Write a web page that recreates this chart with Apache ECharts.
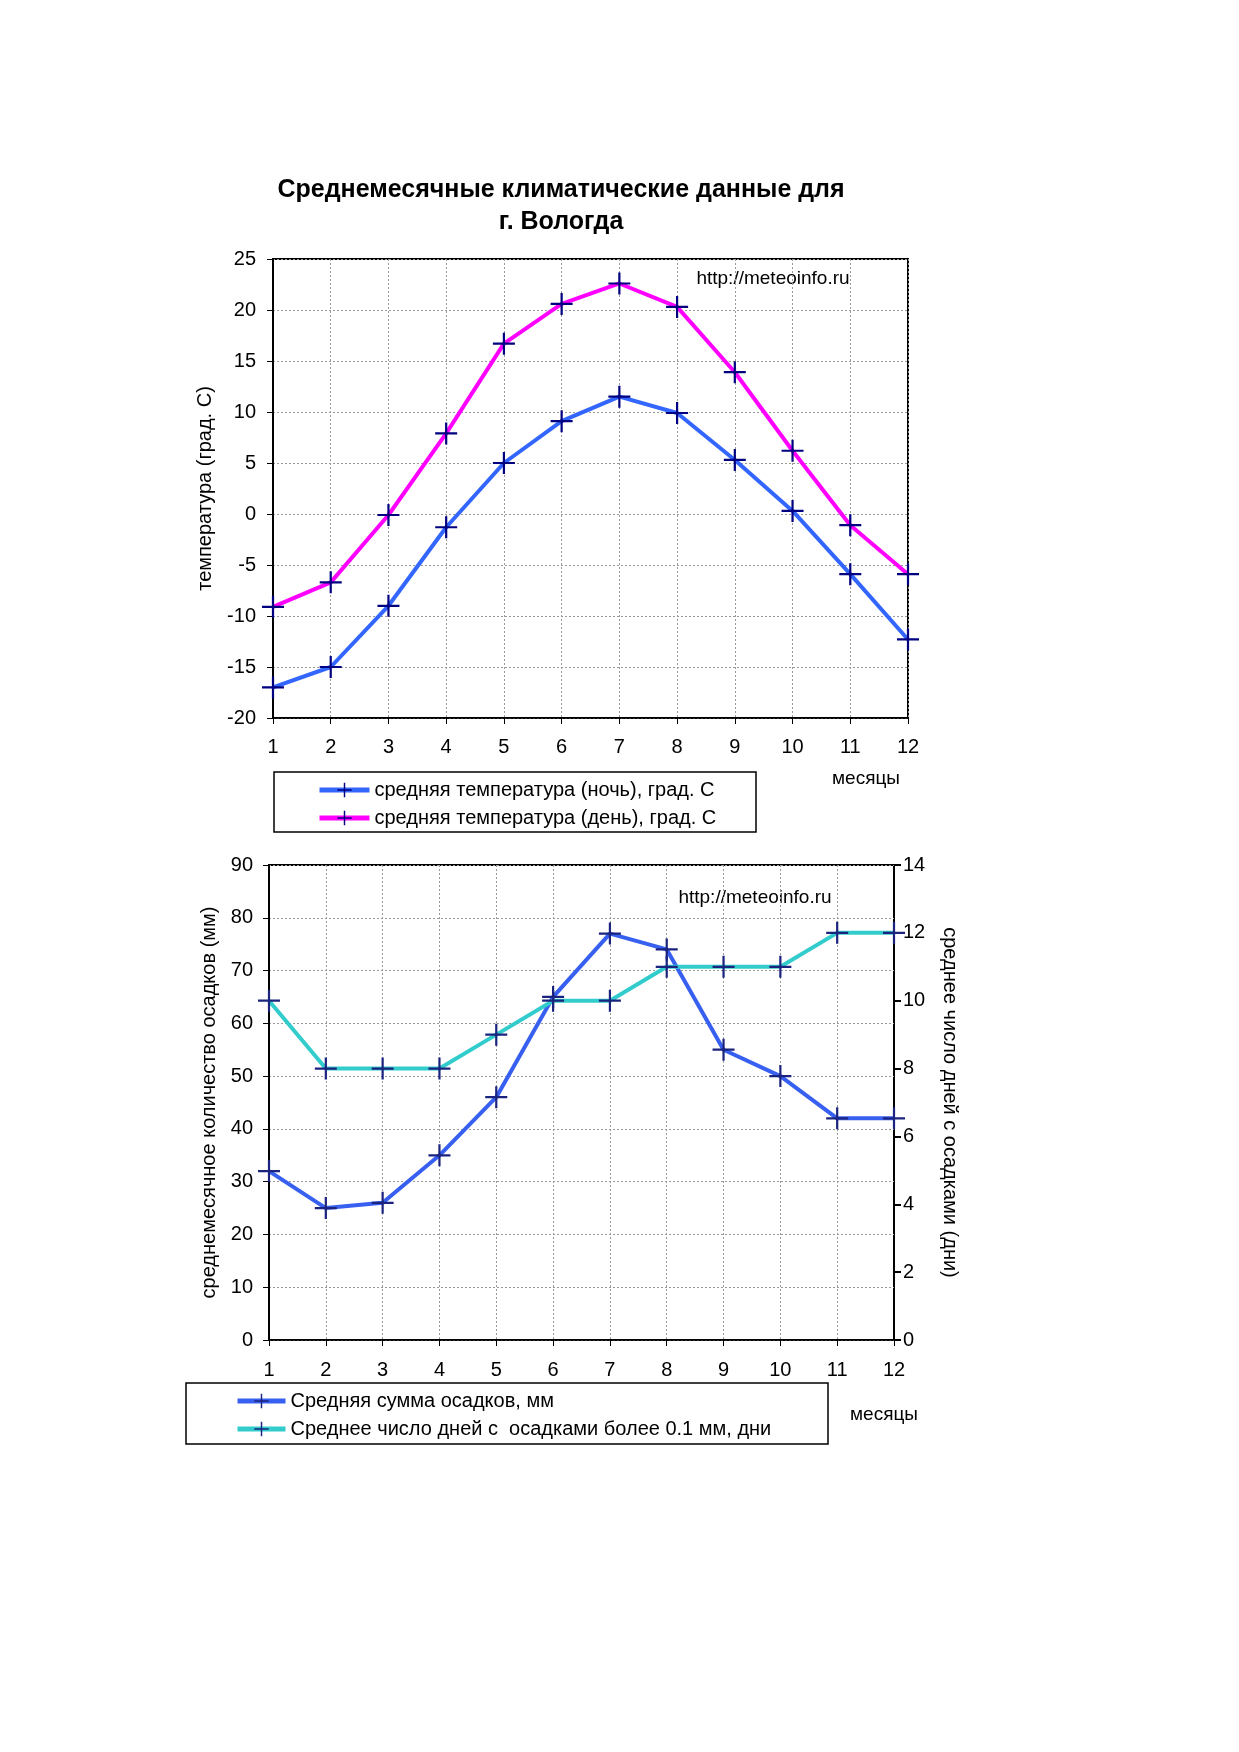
<!DOCTYPE html>
<html>
<head>
<meta charset="utf-8">
<script src="https://cdn.jsdelivr.net/npm/echarts@6/dist/echarts.min.js"></script>
<style>
  html, body { margin: 0; padding: 0; background: #fff; }
  #main { width: 1239px; height: 1752px; }
</style>
</head>
<body>
<div id="main"></div>
<script>
// месяцы
var months = ['1', '2', '3', '4', '5', '6', '7', '8', '9', '10', '11', '12'];
// температура, град. С
var nightTemp = [-17, -15, -9, -1.3, 5, 9.1, 11.5, 9.9, 5.3, 0.3, -5.9, -12.3];
var dayTemp = [-9.1, -6.7, -0.1, 7.9, 16.7, 20.6, 22.6, 20.3, 13.9, 6.2, -1.1, -5.9];
// осадки
var precipMm = [32, 25, 26, 35, 46, 65, 77, 74, 55, 50, 42, 42];
var precipDays = [10, 8, 8, 8, 9, 10, 10, 11, 11, 11, 12, 12];

var seriesNames = [
  'средняя температура (ночь), град. С',
  'средняя температура (день), град. С',
  'Средняя сумма осадков, мм',
  'Среднее число дней с  осадками более 0.1 мм, дни'
];

var FONT = '"Liberation Sans", Arial, sans-serif';
var plus = 'path://M0,9H20V11H0Z M9,0H11V20H9Z';
var gridLine = { show: true, lineStyle: { color: '#999', type: [2, 2], width: 1 } };
var lbl = { color: '#000', fontFamily: FONT, fontSize: 20 };

var myChart = echarts.init(document.getElementById('main'));

function xAx(gi, margin) {
  return {
    type: 'category', gridIndex: gi, data: months, boundaryGap: false,
    axisLine: { onZero: false, lineStyle: { color: '#000', width: 1.5 } },
    axisTick: { show: true, length: 6, lineStyle: { color: '#000' } },
    axisLabel: Object.assign({ margin: margin }, lbl),
    splitLine: gridLine
  };
}

myChart.setOption({
  animation: false,
  grid: [
    { left: 273, top: 259, width: 635, height: 459, show: true, borderColor: '#000', borderWidth: 2 },
    { left: 269, top: 865, width: 625, height: 475, show: true, borderColor: '#000', borderWidth: 2 }
  ],
  xAxis: [xAx(0, 19), xAx(1, 20)],
  yAxis: [
    {
      type: 'value', gridIndex: 0, min: -20, max: 25, interval: 5,
      name: 'температура (град. С)', nameLocation: 'middle', nameGap: 58, nameRotate: 90,
      nameTextStyle: lbl,
      axisLine: { show: true, lineStyle: { color: '#000' } },
      axisTick: { show: true, length: 6, lineStyle: { color: '#000' } },
      axisLabel: Object.assign({ margin: 17 }, lbl),
      splitLine: gridLine
    },
    {
      type: 'value', gridIndex: 1, min: 0, max: 90, interval: 10,
      name: 'среднемесячное количество осадков (мм)', nameLocation: 'middle', nameGap: 50, nameRotate: 90,
      nameTextStyle: lbl,
      axisLine: { show: true, lineStyle: { color: '#000' } },
      axisTick: { show: true, length: 6, lineStyle: { color: '#000' } },
      axisLabel: Object.assign({ margin: 16 }, lbl),
      splitLine: gridLine
    },
    {
      type: 'value', gridIndex: 1, position: 'right', min: 0, max: 14, interval: 2,
      name: 'среднее число дней с осадками (дни)', nameLocation: 'middle', nameGap: 46, nameRotate: -90,
      nameTextStyle: lbl,
      axisLine: { show: true, lineStyle: { color: '#000' } },
      axisTick: { show: true, length: 7, lineStyle: { color: '#000', width: 2 } },
      axisLabel: Object.assign({ margin: 9 }, lbl),
      splitLine: { show: false }
    }
  ],
  legend: [
    {
      data: [seriesNames[0], seriesNames[1]], orient: 'vertical',
      left: 312, top: 775, itemWidth: 50, itemHeight: 18, itemGap: 8,
      lineStyle: { width: 5 },
      textStyle: lbl
    },
    {
      data: [seriesNames[2], seriesNames[3]], orient: 'vertical',
      left: 230, top: 1386, itemWidth: 48, itemHeight: 18, itemGap: 8,
      lineStyle: { width: 5 },
      textStyle: lbl
    }
  ],
  series: [
    {
      name: seriesNames[0], type: 'line', xAxisIndex: 0, yAxisIndex: 0, data: nightTemp,
      symbol: plus, symbolSize: 22, itemStyle: { color: '#000080' },
      lineStyle: { color: '#3366FF', width: 4 }
    },
    {
      name: seriesNames[1], type: 'line', xAxisIndex: 0, yAxisIndex: 0, data: dayTemp,
      symbol: plus, symbolSize: 22, itemStyle: { color: '#000080' },
      lineStyle: { color: '#FF00FF', width: 4 }
    },
    {
      name: seriesNames[2], type: 'line', xAxisIndex: 1, yAxisIndex: 1, data: precipMm,
      symbol: plus, symbolSize: 22, itemStyle: { color: '#1a237e' },
      lineStyle: { color: '#3860F0', width: 4 }
    },
    {
      name: seriesNames[3], type: 'line', xAxisIndex: 1, yAxisIndex: 2, data: precipDays,
      symbol: plus, symbolSize: 22, itemStyle: { color: '#1a237e' },
      lineStyle: { color: '#33CCCC', width: 4 }
    }
  ],
  graphic: [
    {
      type: 'text', x: 561, y: 174,
      style: {
        text: 'Среднемесячные климатические данные для\nг. Вологда',
        align: 'center', fontFamily: FONT,
        fontWeight: 'bold', fontSize: 25, lineHeight: 32, fill: '#000'
      }
    },
    { type: 'rect', shape: { x: 274, y: 772, width: 482, height: 60 }, style: { fill: 'none', stroke: '#000', lineWidth: 1.5 } },
    { type: 'rect', shape: { x: 186, y: 1383, width: 642, height: 61 }, style: { fill: 'none', stroke: '#000', lineWidth: 1.5 } },
    { type: 'text', x: 773, y: 279, style: { text: 'http://meteoinfo.ru', align: 'center', verticalAlign: 'middle', font: '19px ' + FONT, fill: '#000' } },
    { type: 'text', x: 755, y: 898, style: { text: 'http://meteoinfo.ru', align: 'center', verticalAlign: 'middle', font: '19px ' + FONT, fill: '#000' } },
    { type: 'text', x: 866, y: 779, style: { text: 'месяцы', align: 'center', verticalAlign: 'middle', font: '19px ' + FONT, fill: '#000' } },
    { type: 'text', x: 884, y: 1415, style: { text: 'месяцы', align: 'center', verticalAlign: 'middle', font: '19px ' + FONT, fill: '#000' } }
  ]
});
</script>
</body>
</html>
